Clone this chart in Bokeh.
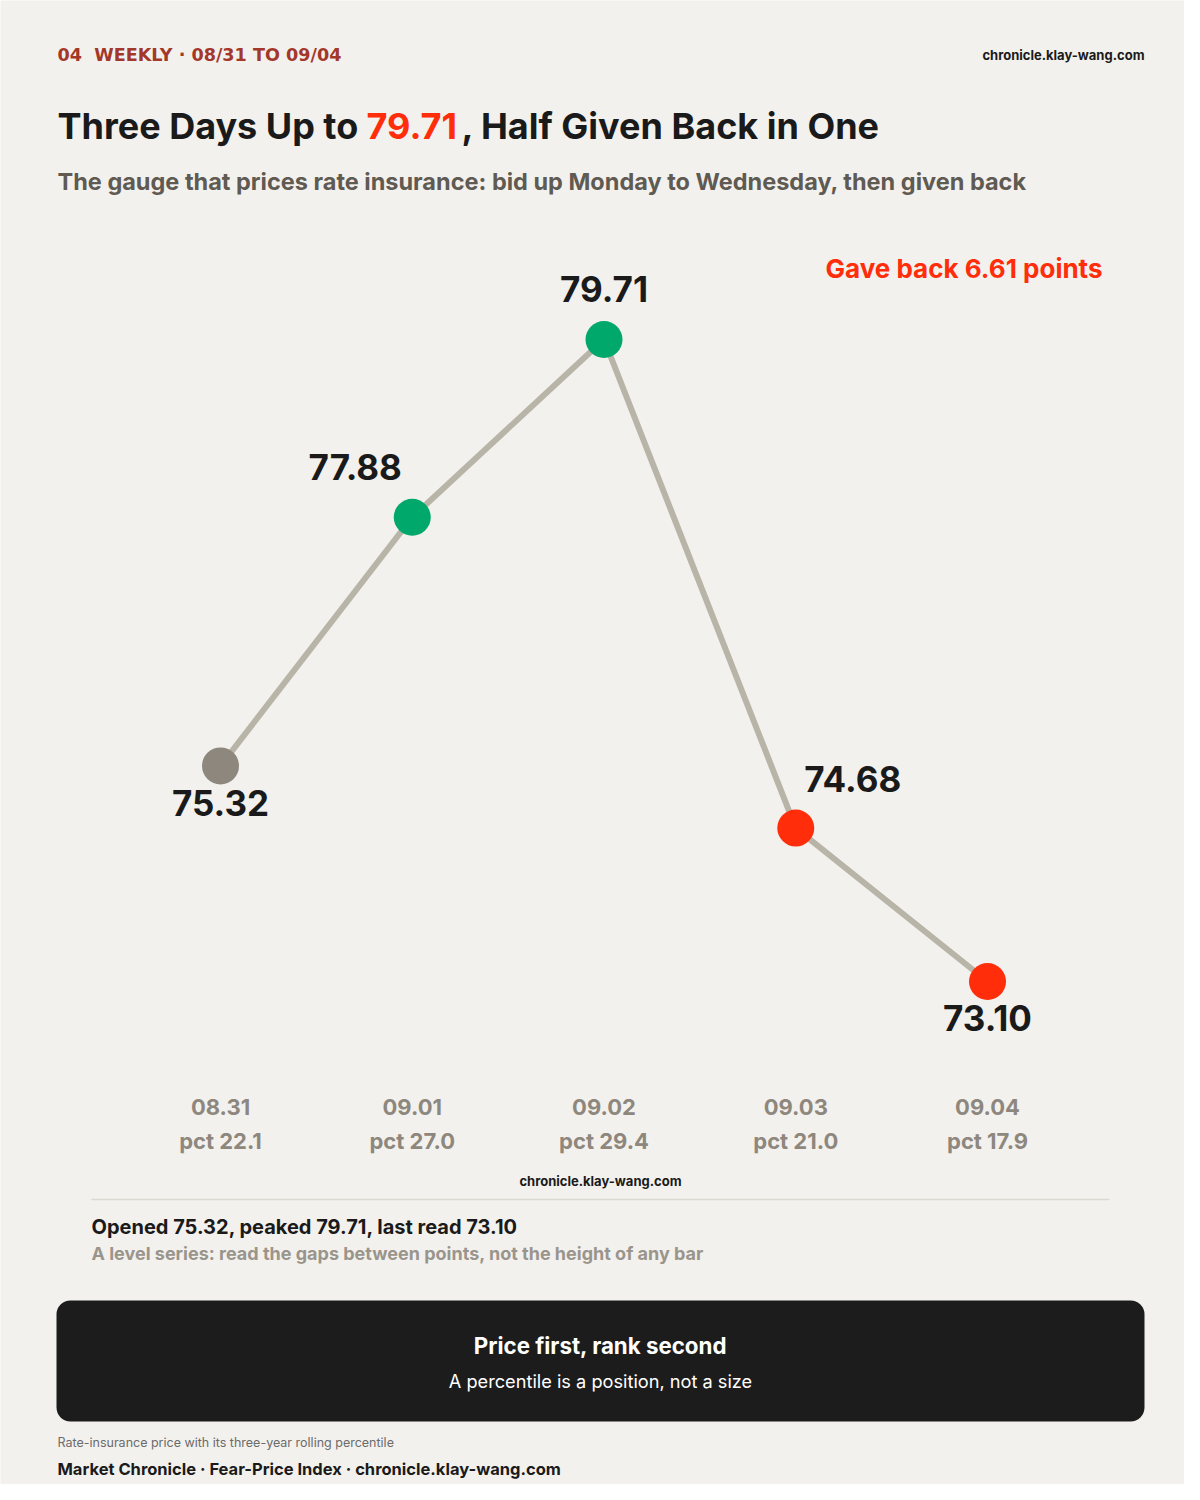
from bokeh.plotting import figure
from bokeh.models import Range1d, Label, BoxAnnotation, ColumnDataSource
from bokeh.core.properties import value
from bokeh.embed import file_html
from bokeh.resources import INLINE

# ---- data ----
dates = ["08.31", "09.01", "09.02", "09.03", "09.04"]
prices = [75.32, 77.88, 79.71, 74.68, 73.10]
pcts = [22.1, 27.0, 29.4, 21.0, 17.9]

BG = "#f3f1ed"
INK = "#1a1a1a"
RED = "#ff2d0a"
GREEN = "#00a86b"
GREY = "#8d877e"
LINE = "#b8b5a8"
FONT = "Inter"

W, H = 1184, 1484
idx = list(range(len(prices)))

p = figure(width=W, height=H, output_backend="svg", toolbar_location=None,
           x_range=Range1d(-1.14733, 5.02738), y_range=Range1d(67.9211, 83.2003),
           x_axis_location=None, y_axis_location=None, min_border=0,
           background_fill_color=BG, border_fill_color=BG, outline_line_color=None)
p.grid.visible = False
# layout ranges in page pixels (top-down)
p.extra_x_ranges = {"px": Range1d(0, W)}
p.extra_y_ranges = {"py": Range1d(H, 0)}


def lab(x, y, text, size, color=INK, style="bold", align="left", baseline="middle", font=FONT):
    p.add_layout(Label(x=x, y=y, text=text, x_range_name="px", y_range_name="py",
                       text_font=font, text_font_size=f"{size}px", text_font_style=style,
                       text_color=color, text_align=align, text_baseline=baseline))


# colours by direction
colors = [GREY] + [GREEN if prices[i] > prices[i - 1] else RED for i in range(1, len(prices))]

src = ColumnDataSource(dict(x=idx, y=prices, c=colors,
                            t=[f"{v:.2f}" for v in prices]))

p.line("x", "y", source=src, line_color=LINE, line_width=6)
p.scatter("x", "y", source=src, size=37, fill_color="c", line_color=None)

# value labels with per-point placement
peak = prices.index(max(prices))
xo, yo = [], []
for i in idx:
    if i == 0 or i == len(prices) - 1:
        xo.append(0); yo.append(37)
    elif i == peak:
        xo.append(0); yo.append(-50)
    elif prices[i] > prices[i - 1]:
        xo.append(-57); yo.append(-50)
    else:
        xo.append(57); yo.append(-49)
src.data["xo"] = xo
src.data["yo"] = yo
p.text("x", "y", text="t", source=src, x_offset="xo", y_offset="yo",
       text_font=value(FONT), text_font_size="35px", text_font_style="bold",
       text_color=INK, text_align="center", text_baseline="middle")

# x category labels
src2 = ColumnDataSource(dict(x=idx, y1=[1106] * len(idx), y2=[1140] * len(idx), d=dates,
                             pc=[f"pct {v:.1f}" for v in pcts]))
p.text("x", "y1", text="d", source=src2, y_range_name="py",
       text_font=value(FONT), text_font_size="22px", text_font_style="bold",
       text_color=GREY, text_align="center", text_baseline="middle")
p.text("x", "y2", text="pc", source=src2, y_range_name="py",
       text_font=value(FONT), text_font_size="22px", text_font_style="bold",
       text_color=GREY, text_align="center", text_baseline="middle")

# header
lab(57, 54, "04\u00a0\u00a0WEEKLY · 08/31 TO 09/04", 17.6, color="#a3382a", font="DejaVu Sans")
lab(1144, 54, "chronicle.klay-wang.com", 13, align="right")
lab(57, 125, "Three Days Up to", 36)
lab(366, 125, f"{max(prices):.2f}", 36, color=RED)
lab(461, 125, ", Half Given Back in One", 36)
lab(57, 181, "The gauge that prices rate insurance: bid up Monday to Wednesday, then given back", 23.5,
    color="#5f5a52")

drop = max(prices) - prices[-1]
lab(1102, 268, f"Gave back {drop:.2f} points", 26, color=RED, align="right")

lab(600, 1180, "chronicle.klay-wang.com", 13, align="center")
p.line([91, 1109], [1199, 1199], x_range_name="px", y_range_name="py", line_color="#dcd9d2", line_width=1.5)
lab(91, 1226, f"Opened {prices[0]:.2f}, peaked {max(prices):.2f}, last read {prices[-1]:.2f}", 20)
lab(91, 1253, "A level series: read the gaps between points, not the height of any bar", 18, color="#9a958c")

p.add_layout(BoxAnnotation(left=56, right=1144, top=1300, bottom=1421, x_range_name="px", y_range_name="py",
                           fill_color="#1c1c1c", fill_alpha=1, line_color=None, border_radius=14))
lab(600, 1345, "Price first, rank second", 22.3, color="#ffffff", align="center")
lab(600, 1380, "A percentile is a position, not a size", 18.2, color="#ffffff", style="normal", align="center")

lab(57, 1442, "Rate-insurance price with its three-year rolling percentile", 12.5, color="#6b6b6b", style="normal")
lab(57, 1468, "Market Chronicle · Fear-Price Index · chronicle.klay-wang.com", 16.5)

open("out.html", "w").write(file_html(p, INLINE))
